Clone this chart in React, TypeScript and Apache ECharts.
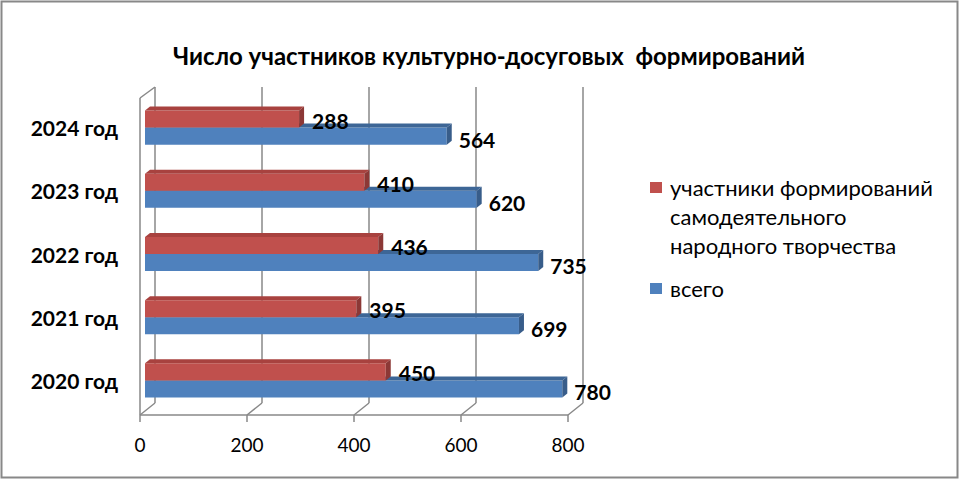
import React, { useEffect, useRef } from "react";
import * as echarts from "echarts";

const titleText = "Число участников культурно-досуговых  формирований";
const categories = ["2020 год", "2021 год", "2022 год", "2023 год", "2024 год"];
const participants = [450, 395, 436, 410, 288];
const total = [780, 699, 735, 620, 564];
const axisTicks = [0, 200, 400, 600, 800];
const seriesNames = [
  "участники формирований самодеятельного народного творчества",
  "всего",
];
const legendLines = ["участники формирований", "самодеятельного", "народного творчества"];

const RED = "#C0504D";
const BLUE = "#4F81BD";
const FONT = "Lato, 'Open Sans', 'Noto Sans', sans-serif";

function makeBarRenderer(
  front: string,
  top: string,
  side: string,
  upper: boolean,
  labelDx: number,
  labelDy: number
) {
  return (params: any, api: any) => {
    const v = api.value(0);
    const c = api.value(1);
    const p0 = api.coord([0, c]);
    const p1 = api.coord([v, c]);
    const band = api.size([0, 1])[1];
    const h = band * 0.27;
    const y0 = upper ? p0[1] - h : p0[1];
    const x0 = p0[0];
    const x1 = p1[0];
    const dx = 5;
    const dy = 4;
    return {
      type: "group",
      children: [
        {
          type: "rect",
          shape: { x: x0, y: y0, width: x1 - x0, height: h },
          style: { fill: front },
        },
        {
          type: "polygon",
          shape: { points: [[x0, y0], [x0 + dx, y0 - dy], [x1 + dx, y0 - dy], [x1, y0]] },
          style: { fill: top },
        },
        {
          type: "polygon",
          shape: { points: [[x1, y0], [x1 + dx, y0 - dy], [x1 + dx, y0 + h - dy], [x1, y0 + h]] },
          style: { fill: side },
        },
        {
          type: "text",
          x: x1 + labelDx,
          y: y0 + h / 2 + labelDy,
          style: {
            text: String(v),
            fill: "#000",
            fontSize: 21,
            fontWeight: "bold",
            fontFamily: FONT,
            align: "left",
            verticalAlign: "middle",
          },
        },
      ],
    };
  };
}

function frameRenderer(params: any, api: any) {
  const cs = params.coordSys;
  const v = api.value(0);
  const gridTop = cs.y;
  const gridBottom = cs.y + cs.height;
  const xf = api.coord([v, 0])[0] - 5;
  const xb = xf + 15;
  const line = { stroke: "#888888", lineWidth: 1.5 };
  const children: any[] = [
    { type: "line", shape: { x1: xb, y1: gridTop - 9, x2: xb, y2: gridBottom - 9 }, style: line },
    { type: "line", shape: { x1: xf, y1: gridBottom + 3, x2: xb, y2: gridBottom - 9 }, style: line },
    { type: "line", shape: { x1: xf, y1: gridBottom + 3, x2: xf, y2: gridBottom + 10 }, style: line },
  ];
  if (params.dataIndex === 0) {
    const xEnd = api.coord([axisTicks[axisTicks.length - 1], 0])[0] - 5;
    children.push(
      { type: "line", shape: { x1: xf, y1: gridBottom + 3, x2: xEnd, y2: gridBottom + 3 }, style: line },
      { type: "line", shape: { x1: xf, y1: gridTop + 2, x2: xf, y2: gridBottom + 3 }, style: line },
      { type: "line", shape: { x1: xf, y1: gridTop + 2, x2: xb, y2: gridTop - 9 }, style: line }
    );
  }
  return { type: "group", children };
}

export default function App() {
  const ref = useRef<HTMLDivElement>(null);
  useEffect(() => {
    document.body.style.margin = "0";
    if (!ref.current) return;
    const chart = echarts.init(ref.current, undefined, { renderer: "svg" });
    const legendText = { fontSize: 22, lineHeight: 29, fill: "#000", fontFamily: FONT };
    chart.setOption({
      animation: false,
      backgroundColor: "#ffffff",
      title: {
        text: titleText,
        left: 484,
        textAlign: "center",
        top: 38,
        textStyle: { fontSize: 24, fontWeight: "bold", color: "#000", fontFamily: FONT },
      },
      graphic: [
        {
          type: "rect",
          shape: { x: 1.5, y: 1.5, width: 956, height: 476 },
          style: { fill: "none", stroke: "#888888", lineWidth: 2 },
          silent: true,
        },
        {
          type: "group",
          left: 650,
          top: 173,
          children: [
            { type: "rect", shape: { x: 0, y: 9, width: 12, height: 11 }, style: { fill: RED } },
            {
              type: "text",
              x: 20,
              y: 0,
              style: { ...legendText, text: legendLines.join("\n"), verticalAlign: "top", align: "left" },
            },
            { type: "rect", shape: { x: 0, y: 110, width: 12, height: 11 }, style: { fill: BLUE } },
            {
              type: "text",
              x: 20,
              y: 101,
              style: { ...legendText, text: seriesNames[1], verticalAlign: "top", align: "left" },
            },
          ],
        },
      ],
      grid: { left: 145, top: 96, width: 428, height: 316 },
      xAxis: {
        type: "value",
        min: 0,
        max: 800,
        interval: 200,
        axisLine: { show: false },
        axisTick: { show: false },
        splitLine: { show: false },
        axisLabel: {
          fontSize: 19,
          color: "#000",
          fontFamily: FONT,
          margin: 23,
          padding: [0, 10, 0, 0],
        },
      },
      yAxis: {
        type: "category",
        data: categories,
        axisLine: { show: false },
        axisTick: { show: false },
        splitLine: { show: false },
        axisLabel: {
          fontSize: 21,
          fontWeight: "bold",
          color: "#000",
          fontFamily: FONT,
          margin: 27,
          padding: [18, 0, 0, 0],
        },
      },
      series: [
        {
          type: "custom",
          name: "frame",
          silent: true,
          z: 1,
          data: axisTicks.map((v) => [v, 0]),
          encode: { x: 0, y: 1 },
          renderItem: frameRenderer,
        },
        {
          type: "custom",
          name: seriesNames[1],
          z: 2,
          itemStyle: { color: BLUE },
          data: total.map((v, i) => [v, i]),
          encode: { x: 0, y: 1 },
          renderItem: makeBarRenderer(BLUE, "#3D6696", "#385D8A", false, 12, 3),
        },
        {
          type: "custom",
          name: seriesNames[0],
          z: 3,
          itemStyle: { color: RED },
          data: participants.map((v, i) => [v, i]),
          encode: { x: 0, y: 1 },
          renderItem: makeBarRenderer(RED, "#A8423F", "#8C3836", true, 13, 1),
        },
      ],
    });
    return () => chart.dispose();
  }, []);
  return <div ref={ref} style={{ width: 960, height: 480 }} />;
}
